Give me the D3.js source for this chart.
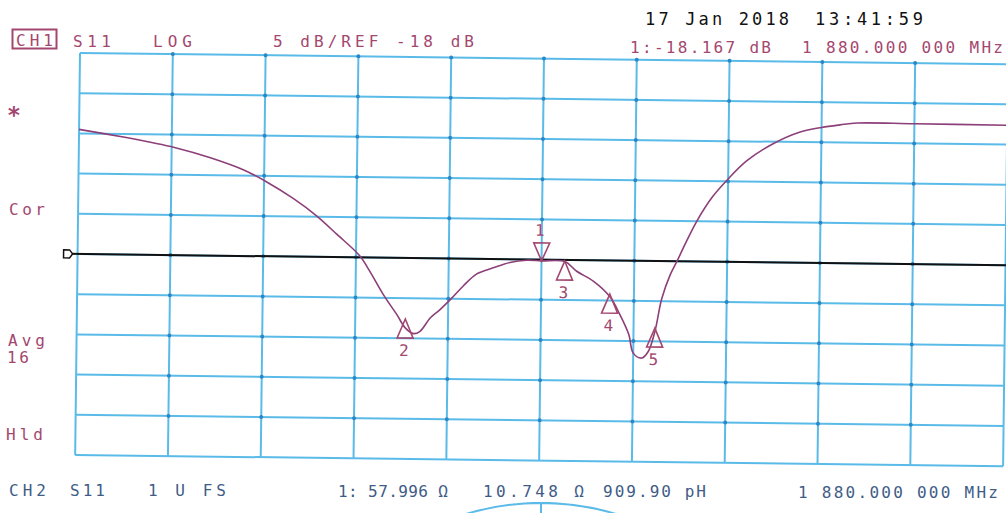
<!DOCTYPE html>
<html><head><meta charset="utf-8">
<script src="https://cdn.jsdelivr.net/npm/d3@7"></script>
<style>
html,body{margin:0;padding:0;background:#fff;}
svg{display:block;}
text{font-family:"DejaVu Sans Mono","Liberation Mono",monospace;}
</style></head><body>
<svg id="c" width="1006" height="513"></svg>
<script>
// ---- data (x in graticule divisions, 0..10; y in dB) ----
const traceDiv = [0.00,0.51,0.77,1.03,1.41,1.78,2.02,2.32,2.57,2.79,3.04,3.15,3.30,3.45,3.54,3.63,3.70,3.81,3.91,4.04,4.16,4.30,4.48,4.66,4.84,5.00,5.25,5.38,5.56,5.74,5.85,5.95,6.00,6.09,6.16,6.23,6.30,6.39,6.46,6.56,6.67,6.83,7.00,7.20,7.48,7.77,8.00,8.20,8.38,9.00,10.00];
const traceDb  = [-2.5,-3.45,-4.0,-4.6,-5.8,-7.3,-8.7,-10.8,-12.9,-15.15,-17.8,-19.7,-22.6,-25.1,-26.7,-27.4,-27.1,-25.4,-24.4,-22.9,-21.4,-19.9,-19.1,-18.4,-18.1,-18.167,-18.2,-19.4,-20.6,-22.5,-24.7,-27.2,-29.5,-30.1,-29.3,-26.8,-22.7,-19.65,-18.0,-15.5,-12.95,-10.0,-7.7,-5.4,-3.25,-1.75,-1.15,-0.8,-0.55,-0.55,-0.6];
const markerNum = [1,2,3,4,5];
const markerDiv = [5.00,3.54,5.25,5.74,6.23];
const markerDb  = [-18.167,-25.6,-18.15,-22.2,-26.35];
const xGridDiv = [0,1,2,3,4,5,6,7,8,9,10];
const yGridDb  = [7,2,-3,-8,-13,-18,-23,-28,-33,-38,-43];
const refLevel = -18;

const topLabels = [
  {t:"CH1", x:16, y:46, w:37},
  {t:"S11", x:73, y:47, w:38},
  {t:"LOG", x:153, y:47, w:39},
  {t:"5 dB/REF -18 dB", x:273, y:47, w:201},
  {t:"1:-18.167 dB", x:630, y:53, w:141},
  {t:"1 880.000 000 MHz", x:802, y:53, w:201}
];
const dateLabels = [
  {t:"17 Jan 2018", x:645, y:25, w:144},
  {t:"13:41:59", x:815, y:25, w:108}
];
const sideLabels = [
  {t:"Cor", x:9, y:215, w:36},
  {t:"Avg", x:8, y:346, w:37},
  {t:"16", x:7, y:363, w:22},
  {t:"Hld", x:6, y:440, w:37}
];
const bottomLabels = [
  {t:"CH2", x:9, y:496, w:37},
  {t:"S11", x:70, y:496, w:35},
  {t:"1 U FS", x:148, y:496, w:78},
  {t:"1: 57.996 \u03A9", x:338, y:497, w:110},
  {t:"10.748 \u03A9", x:483, y:497, w:101},
  {t:"909.90 pH", x:603, y:497, w:103},
  {t:"1 880.000 000 MHz", x:798, y:498, w:200}
];

// ---- drawing ----
const svg = d3.select("#c");
const gridCol = "#5bbbe8", dotCol = "#2a88c6", traceCol = "#8c3f78", maroon = "#a3476f", navy = "#405c86";

const x = d3.scaleLinear().domain([0,10]).range([80, 80+928]);
const y = d3.scaleLinear().domain([-43, 7]).range([53+402, 53]);

// faint arc of channel-2 display at bottom
svg.append("path")
  .attr("d", d3.arc()({innerRadius:260, outerRadius:260, startAngle:-0.45, endAngle:0.45}))
  .attr("transform","translate(541,763)")
  .attr("fill","none").attr("stroke",gridCol).attr("stroke-width",2);
svg.append("line").attr("x1",541).attr("x2",541).attr("y1",503).attr("y2",513)
  .attr("stroke",gridCol).attr("stroke-width",2);

const g = svg.append("g").attr("transform","rotate(0.69,80,53)");

g.selectAll("line.h").data(yGridDb).join("line").attr("class","h")
  .attr("x1",x(0)).attr("x2",x(10)).attr("y1",d=>y(d)).attr("y2",d=>y(d))
  .attr("stroke",gridCol).attr("stroke-width",2);
g.selectAll("line.v").data(xGridDiv).join("line").attr("class","v")
  .attr("x1",d=>x(d)).attr("x2",d=>x(d)).attr("y1",y(7)).attr("y2",y(-43))
  .attr("stroke",gridCol).attr("stroke-width",2);

const dots = [];
xGridDiv.slice(1,10).forEach(xd => yGridDb.slice(0,10).forEach(yd => dots.push([xd,yd])));
g.selectAll("circle.dot").data(dots).join("circle").attr("class","dot")
  .attr("cx",d=>x(d[0])).attr("cy",d=>y(d[1])).attr("r",2).attr("fill",dotCol);

// reference line + pointer
g.append("line").attr("x1",70).attr("x2",1012).attr("y1",y(refLevel)).attr("y2",y(refLevel))
  .attr("stroke","#111").attr("stroke-width",2);
const ry = y(refLevel);
g.append("path")
  .attr("d",`M66,${ry-4} L72,${ry-4} L75,${ry} L72,${ry+4} L66,${ry+4} Z`)
  .attr("fill","#fff").attr("stroke","#111").attr("stroke-width",1.5);

// trace
const pts = traceDiv.map((d,i)=>[d, traceDb[i]]);
g.append("path").datum(pts)
  .attr("d", d3.line().x(d=>x(d[0])).y(d=>y(d[1])).curve(d3.curveCatmullRom.alpha(0.5)))
  .attr("fill","none").attr("stroke",traceCol).attr("stroke-width",1.6);

// markers
const mk = markerNum.map((n,i)=>({n, px:x(markerDiv[i]), py:y(markerDb[i])}));
mk.forEach(m=>{
  if (m.n===1) {
    g.append("path").attr("d",`M${m.px},${m.py} L${m.px-8},${m.py-18} L${m.px+8},${m.py-18} Z`)
      .attr("fill","none").attr("stroke",maroon).attr("stroke-width",1.6);
    g.append("text").attr("x",m.px-2).attr("y",m.py-25).attr("text-anchor","middle")
      .attr("font-size",16).attr("fill",maroon).text(m.n);
  } else {
    g.append("path").attr("d",`M${m.px},${m.py} L${m.px-8},${m.py+19} L${m.px+8},${m.py+19} Z`)
      .attr("fill","none").attr("stroke",maroon).attr("stroke-width",1.6);
    g.append("text").attr("x",m.px-1).attr("y",m.py+37).attr("text-anchor","middle")
      .attr("font-size",16).attr("fill",maroon).text(m.n);
  }
});

// text labels
function addLabels(arr, col, size){
  arr.forEach(d=>{
    svg.append("text").attr("x",d.x).attr("y",d.y).attr("font-size",size)
      .attr("fill",col).attr("textLength",d.w).attr("lengthAdjust","spacing").text(d.t);
  });
}
svg.append("rect").attr("x",12.5).attr("y",29.5).attr("width",44).attr("height",19)
  .attr("fill","none").attr("stroke",maroon).attr("stroke-width",2);
addLabels(topLabels, maroon, 16);
addLabels(dateLabels, "#111", 17);
addLabels(sideLabels, maroon, 16);
addLabels(bottomLabels, navy, 16);
svg.append("text").attr("x",7).attr("y",123).attr("font-size",23).attr("font-weight","bold")
  .attr("fill",maroon).text("*");
</script>
</body></html>
